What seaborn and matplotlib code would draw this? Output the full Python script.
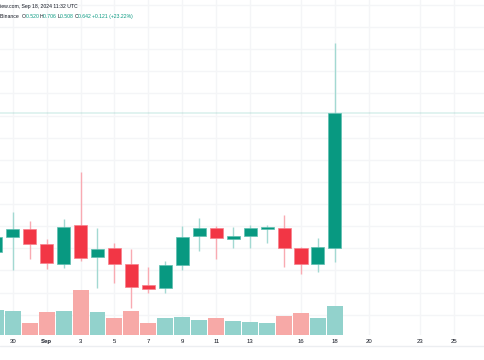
import numpy as np
import pandas as pd
import matplotlib
matplotlib.use("Agg")
import matplotlib.pyplot as plt
from matplotlib.text import Annotation
import seaborn as sns

# ---- data ----
dates = ["2024-08-29", "2024-08-30", "2024-08-31", "2024-09-01", "2024-09-02",
         "2024-09-03", "2024-09-04", "2024-09-05", "2024-09-06", "2024-09-07",
         "2024-09-08", "2024-09-09", "2024-09-10", "2024-09-11", "2024-09-12",
         "2024-09-13", "2024-09-14", "2024-09-15", "2024-09-16", "2024-09-17",
         "2024-09-18"]
opens  = [0.5169, 0.5305, 0.5372, 0.5236, 0.5055, 0.5411, 0.5121, 0.5203, 0.5055, 0.4868,
          0.4844, 0.5046, 0.5311, 0.5384, 0.5281, 0.5311, 0.5372, 0.5381, 0.5200, 0.5055, 0.520]
highs  = [0.5340, 0.5531, 0.5447, 0.5284, 0.5465, 0.5890, 0.5381, 0.5245, 0.5194, 0.5028,
          0.5085, 0.5402, 0.5474, 0.5402, 0.5393, 0.5411, 0.5411, 0.5501, 0.5214, 0.5290, 0.706]
lows   = [0.5120, 0.5004, 0.5103, 0.5010, 0.5019, 0.5088, 0.4838, 0.4889, 0.4658, 0.4799,
          0.4799, 0.5004, 0.5176, 0.5103, 0.5200, 0.5200, 0.5245, 0.5034, 0.4965, 0.4988, 0.508]
closes = [0.5305, 0.5372, 0.5236, 0.5064, 0.5393, 0.5110, 0.5194, 0.5055, 0.4853, 0.4835,
          0.5046, 0.5305, 0.5384, 0.5290, 0.5314, 0.5381, 0.5390, 0.5200, 0.5055, 0.5214, 0.642]
volumes = [24.7, 24.0, 11.4, 22.4, 23.4, 45.0, 22.4, 16.4, 23.4, 11.7,
           16.4, 18.0, 14.4, 16.4, 13.7, 12.4, 11.7, 18.4, 21.7, 16.4, 29.0]
tick_dates = ["2024-08-30", "2024-09-01", "2024-09-03", "2024-09-05", "2024-09-07",
              "2024-09-09", "2024-09-11", "2024-09-13", "2024-09-16", "2024-09-18",
              "2024-09-20", "2024-09-23", "2024-09-25"]
tick_labels = ["30", "Sep", "3", "5", "7", "9", "11", "13", "16", "18", "20", "23", "25"]
last_price = 0.642
header1 = "iew.com, Sep 18, 2024 11:32 UTC"
ohlc_letters = ["O", "H", "L", "C"]
ohlc_values = ["0.520", "0.706", "0.508", "0.642"]
change_text = "+0.121 (+23.22%)"

# ---- styling ----
UP, DOWN = "#089981", "#F23645"
UP_WICK, DOWN_WICK = "#a3d9d2", "#f9aab2"
UP_VOL, DOWN_VOL = "#92d2cc", "#f7a9a7"
GRID = "#f4f5f7"
TEXT = "#131722"

sns.set_theme(style="white")
plt.rcParams["font.family"] = ["Liberation Sans", "DejaVu Sans"]

base = pd.Timestamp(dates[0])
x = np.array([(pd.Timestamp(d) - base).days for d in dates], dtype=float)
tx = np.array([(pd.Timestamp(d) - base).days for d in tick_dates], dtype=float)
o, h, l, c = map(np.array, (opens, highs, lows, closes))
up = c >= o

fig = plt.figure(figsize=(4.85, 3.6), dpi=100)
fig.patch.set_facecolor("white")
pos = [0, 25.3 / 360, 1, 334.7 / 360]
ax = fig.add_axes(pos)
axv = fig.add_axes(pos, sharex=ax)
axv.patch.set_visible(False)

xlim = (0.251, 28.85)
ylim = (0.4419, 0.7445)

# grid
for gy in np.arange(0.44, 0.75, 0.02):
    ax.axhline(gy, color=GRID, lw=1, zorder=0)
for gx in tx:
    ax.axvline(gx, color=GRID, lw=1, zorder=0)

# last price line
ax.axhline(last_price, color=UP, alpha=0.14, lw=1.2, zorder=1)

# wicks
ax.vlines(x[up], l[up], h[up], color=UP_WICK, lw=1.0, zorder=2)
ax.vlines(x[~up], l[~up], h[~up], color=DOWN_WICK, lw=1.0, zorder=2)
# bodies
body_h = np.maximum(np.abs(c - o), 0.0015)
body_b = np.minimum(o, c)
ax.bar(x[up], body_h[up], bottom=body_b[up], width=0.77, color=UP,
       edgecolor="#5fbfb1", linewidth=0.5, zorder=3)
ax.bar(x[~up], body_h[~up], bottom=body_b[~up], width=0.77, color=DOWN,
       edgecolor="#f7808c", linewidth=0.5, zorder=3)

ax.set_xlim(*xlim)
ax.set_ylim(*ylim)

# volume via seaborn
df = pd.DataFrame({"x": x, "vol": volumes, "dir": np.where(up, "up", "down")})
sns.barplot(data=df, x="x", y="vol", hue="dir", palette={"up": UP_VOL, "down": DOWN_VOL},
            native_scale=True, dodge=False, width=0.94, errorbar=None, legend=False,
            saturation=1, linewidth=0, ax=axv)
axv.set_ylim(0, 334.7)
axv.set_xlabel("")
axv.set_ylabel("")
axv.set_yticks([])

for a in (ax, axv):
    for s in a.spines.values():
        s.set_visible(False)
ax.set_yticks([])
ax.tick_params(axis="x", length=0, labelbottom=False)
axv.set_xticks(tx)
axv.set_xticklabels(tick_labels)
axv.tick_params(axis="x", length=0, pad=3.2, labelsize=4.3, labelcolor=TEXT)
for t in axv.get_xticklabels():
    if t.get_text() == "Sep":
        t.set_fontweight("bold")
axv.set_xlim(*xlim)

# bottom separator
fig.add_artist(plt.Line2D([0, 1], [1 - 345.5 / 360] * 2, color="#eceef1", lw=1,
                          transform=fig.transFigure))

# header
fs = 3.7
fig.text(0.0, 1 - 6.5 / 360, header1, fontsize=fs, color=TEXT, va="center", ha="left")

segs = [("Binance  ", TEXT)]
for letter, val in zip(ohlc_letters, ohlc_values):
    segs.append((letter, TEXT))
    segs.append((val + " ", UP))
segs.append((change_text, UP))
anchor = None
for txt, col in segs:
    if anchor is None:
        anchor = fig.text(0.0, 1 - 16.5 / 360, txt, fontsize=fs, color=col,
                          va="center", ha="left")
    else:
        anchor = fig.add_artist(Annotation(
            txt, xy=(1, 0.5), xycoords=anchor, va="center", ha="left",
            fontsize=fs, color=col))

fig.savefig("out.png", dpi=100, facecolor="white")
